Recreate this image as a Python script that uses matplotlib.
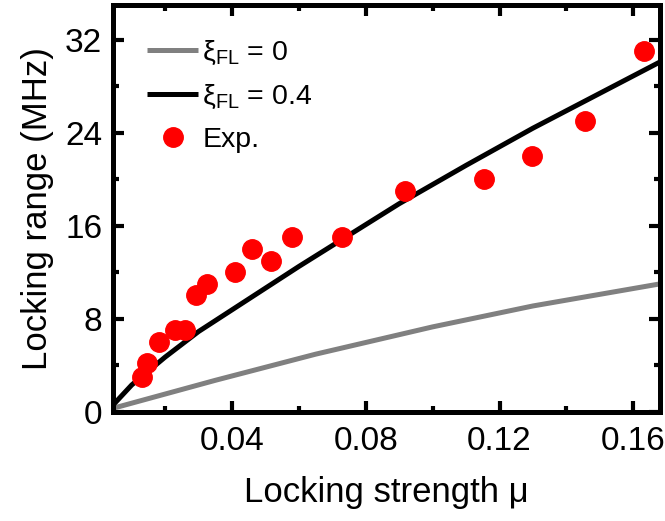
import numpy as np
import matplotlib
matplotlib.use("Agg")
import matplotlib.pyplot as plt
from matplotlib.ticker import MultipleLocator

plt.rcParams['font.family'] = ['Liberation Sans', 'DejaVu Sans']
plt.rcParams['mathtext.fontset'] = 'custom'
plt.rcParams['mathtext.rm'] = 'Liberation Sans'

# experimental points
exp_mu = [0.0130, 0.0145, 0.0182, 0.0229, 0.0259, 0.0292, 0.0324, 0.0409, 0.0461,
          0.0517, 0.0579, 0.0728, 0.0917, 0.1155, 0.1297, 0.1455, 0.1631]
exp_range = [3.0, 4.2, 6.0, 7.0, 7.0, 10.0, 11.0, 12.0, 14.0,
             13.0, 15.0, 15.0, 19.0, 20.0, 22.0, 25.0, 31.0]

# theory, xi_FL = 0
th0_mu = [0.0045, 0.035, 0.065, 0.100, 0.130, 0.168]
th0_range = [0.3, 2.7, 4.95, 7.3, 9.1, 11.0]

# theory, xi_FL = 0.4
th4_mu = [0.0045, 0.010, 0.020, 0.030, 0.045, 0.060, 0.075, 0.090, 0.110, 0.130, 0.150, 0.168]
th4_range = [0.6, 2.3, 4.7, 6.9, 9.7, 12.5, 15.2, 17.9, 21.2, 24.4, 27.4, 30.1]

fig = plt.figure(figsize=(6.65, 5.21), dpi=100)
ax = fig.add_axes([0.1704, 0.2098, 0.8221, 0.7806])

ax.plot(th0_mu, th0_range, color='#808080', lw=3.6, solid_capstyle='butt', label=r'$\mathregular{\xi_{FL}}$ = 0')
ax.plot(th4_mu, th4_range, color='black', lw=3.6, solid_capstyle='butt', label=r'$\mathregular{\xi_{FL}}$ = 0.4')
ax.plot(exp_mu, exp_range, 'o', color='red', ms=14, mec='red', label='Exp.')

ax.set_xlim(0.0045, 0.168)
ax.set_ylim(0, 35)
ax.xaxis.set_major_locator(MultipleLocator(0.04))
ax.xaxis.set_minor_locator(MultipleLocator(0.02))
ax.yaxis.set_major_locator(MultipleLocator(8))
ax.yaxis.set_minor_locator(MultipleLocator(4))
ax.set_xticks([0.04, 0.08, 0.12, 0.16])
ax.set_xticklabels(['0.04', '0.08', '0.12', '0.16'])

for s in ax.spines.values():
    s.set_linewidth(3.6)
ax.tick_params(which='both', direction='in', top=True, right=True, width=3, labelsize=24)
ax.tick_params(axis='x', pad=10)
ax.tick_params(axis='y', pad=8)
ax.tick_params(which='major', length=8)
ax.tick_params(which='minor', length=4)

ax.set_xlabel('Locking strength μ', fontsize=25, labelpad=14)
ax.set_ylabel('Locking range (MHz)', fontsize=25, labelpad=8)

ax.legend(loc='upper left', frameon=False, fontsize=20.5, handlelength=1.8, handletextpad=0.15,
          labelspacing=0.55, borderaxespad=0.3, bbox_to_anchor=(0.025, 0.965))

fig.savefig('out.png', dpi=100)
